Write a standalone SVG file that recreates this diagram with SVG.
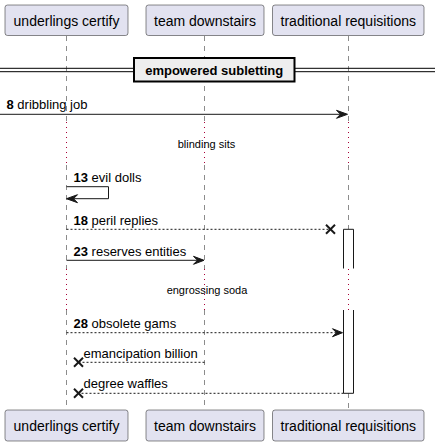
<svg xmlns="http://www.w3.org/2000/svg" width="435" height="446" viewBox="0 0 435 446">
<style>
.pbox{fill:#E2E2F0;stroke:#181818;stroke-width:0.5}
.pname{font-family:"Liberation Sans",Arial,sans-serif;font-size:14px;fill:#000;text-anchor:middle}
.life{stroke:#181818;stroke-width:0.5;stroke-dasharray:5,5;fill:none}
.delay{stroke:#A80036;stroke-width:1;stroke-dasharray:1,4;fill:none}
.msg{stroke:#181818;stroke-width:1;fill:none}
.dash{stroke:#181818;stroke-width:1;stroke-dasharray:2,2;fill:none}
.head{fill:#181818;stroke:#181818;stroke-width:1}
.cross{stroke:#181818;stroke-width:2}
.lbl{font-family:"Liberation Sans",Arial,sans-serif;font-size:13px;fill:#000}
.num{font-weight:bold}
.dtxt{font-family:"Liberation Sans",Arial,sans-serif;font-size:11px;fill:#000;text-anchor:middle}
.act{fill:#FFFFFF;stroke:#181818;stroke-width:1}
</style>
<g id="lifelines">
<line class="life" x1="66.5" y1="36" x2="66.5" y2="122"/>
<line class="delay" x1="66.5" y1="122" x2="66.5" y2="165"/>
<line class="life" x1="66.5" y1="165" x2="66.5" y2="269"/>
<line class="delay" x1="66.5" y1="269" x2="66.5" y2="310"/>
<line class="life" x1="66.5" y1="310" x2="66.5" y2="410"/>
<line class="life" x1="204.5" y1="36" x2="204.5" y2="122"/>
<line class="delay" x1="204.5" y1="122" x2="204.5" y2="165"/>
<line class="life" x1="204.5" y1="165" x2="204.5" y2="269"/>
<line class="delay" x1="204.5" y1="269" x2="204.5" y2="310"/>
<line class="life" x1="204.5" y1="310" x2="204.5" y2="410"/>
<line class="life" x1="348.5" y1="36" x2="348.5" y2="122"/>
<line class="delay" x1="348.5" y1="122" x2="348.5" y2="165"/>
<line class="life" x1="348.5" y1="165" x2="348.5" y2="229"/>
<line class="life" x1="348.5" y1="393" x2="348.5" y2="410"/>
</g>
<g id="activation">
<path class="act" d="M343.5,268.5 V229.3 H353.5 V268.5"/>
<line class="delay" x1="348.5" y1="269" x2="348.5" y2="310"/>
<path class="act" d="M343.5,310 V393.3 H353.5 V310"/>
</g>
<g id="p1_top"><rect class="pbox" x="5" y="5" width="123" height="30.5" rx="2.5"/><text class="pname" x="66.5" y="25.5">underlings certify</text></g>
<g id="p2_top"><rect class="pbox" x="146" y="5" width="118" height="30.5" rx="2.5"/><text class="pname" x="205" y="25.5">team downstairs</text></g>
<g id="p3_top"><rect class="pbox" x="272.5" y="5" width="151.5" height="30.5" rx="2.5"/><text class="pname" x="348.25" y="25.5">traditional requisitions</text></g>
<g id="divider">
<line x1="0" y1="68.3" x2="435" y2="68.3" stroke="#000" stroke-width="1"/>
<line x1="0" y1="71.7" x2="435" y2="71.7" stroke="#000" stroke-width="1"/>
<rect x="134" y="58" width="160.5" height="23.5" fill="#EEEEEE" stroke="#000" stroke-width="2"/>
<text x="214.2" y="74.5" font-family="Liberation Sans,Arial,sans-serif" font-size="13" font-weight="bold" text-anchor="middle">empowered subletting</text>
</g>
<g id="connectors">
<line class="msg" x1="0" y1="114.3" x2="346" y2="114.3"/>
<polygon class="head" points="336.5,110.3 347.5,114.3 336.5,118.3 340.5,114.3"/>
<text class="lbl" x="6.5" y="108.5"><tspan class="num">8</tspan> dribbling job</text>
<text class="dtxt" x="206.5" y="147.5">blinding sits</text>
<polyline class="msg" points="66.5,186.7 108.5,186.7 108.5,198.7 67.5,198.7"/>
<polygon class="head" points="77.5,194.7 66.5,198.7 77.5,202.7 73.5,198.7"/>
<text class="lbl" x="73.5" y="182"><tspan class="num">13</tspan> evil dolls</text>
<line class="dash" x1="66.5" y1="229.3" x2="330.5" y2="229.3"/>
<line class="cross" x1="326" y1="224.8" x2="335" y2="233.8"/>
<line class="cross" x1="326" y1="233.8" x2="335" y2="224.8"/>
<text class="lbl" x="73.5" y="225"><tspan class="num">18</tspan> peril replies</text>
<line class="msg" x1="66.5" y1="260.3" x2="203" y2="260.3"/>
<polygon class="head" points="193.5,256.3 204,260.3 193.5,264.3 197.5,260.3"/>
<text class="lbl" x="73.5" y="255.5"><tspan class="num">23</tspan> reserves entities</text>
<text class="dtxt" x="207" y="294">engrossing soda</text>
<line class="dash" x1="66.5" y1="332.7" x2="341.5" y2="332.7"/>
<polygon class="head" points="332.5,328.7 342.5,332.7 332.5,336.7 336.5,332.7"/>
<text class="lbl" x="73.5" y="327.7"><tspan class="num">28</tspan> obsolete gams</text>
<line class="dash" x1="204.5" y1="362.3" x2="78.5" y2="362.3"/>
<line class="cross" x1="74" y1="357.8" x2="83" y2="366.8"/>
<line class="cross" x1="74" y1="366.8" x2="83" y2="357.8"/>
<text class="lbl" x="83.5" y="357.5">emancipation billion</text>
<line class="dash" x1="343.5" y1="393.3" x2="78.5" y2="393.3"/>
<line class="cross" x1="74" y1="388.8" x2="83" y2="397.8"/>
<line class="cross" x1="74" y1="397.8" x2="83" y2="388.8"/>
<text class="lbl" x="83.5" y="387.5">degree waffles</text>
</g>
<g id="p1_bottom"><rect class="pbox" x="5" y="410" width="123" height="31" rx="2.5"/><text class="pname" x="66.5" y="431">underlings certify</text></g>
<g id="p2_bottom"><rect class="pbox" x="146" y="410" width="118" height="31" rx="2.5"/><text class="pname" x="205" y="431">team downstairs</text></g>
<g id="p3_bottom"><rect class="pbox" x="272.5" y="410" width="151.5" height="31" rx="2.5"/><text class="pname" x="348.25" y="431">traditional requisitions</text></g>
</svg>
